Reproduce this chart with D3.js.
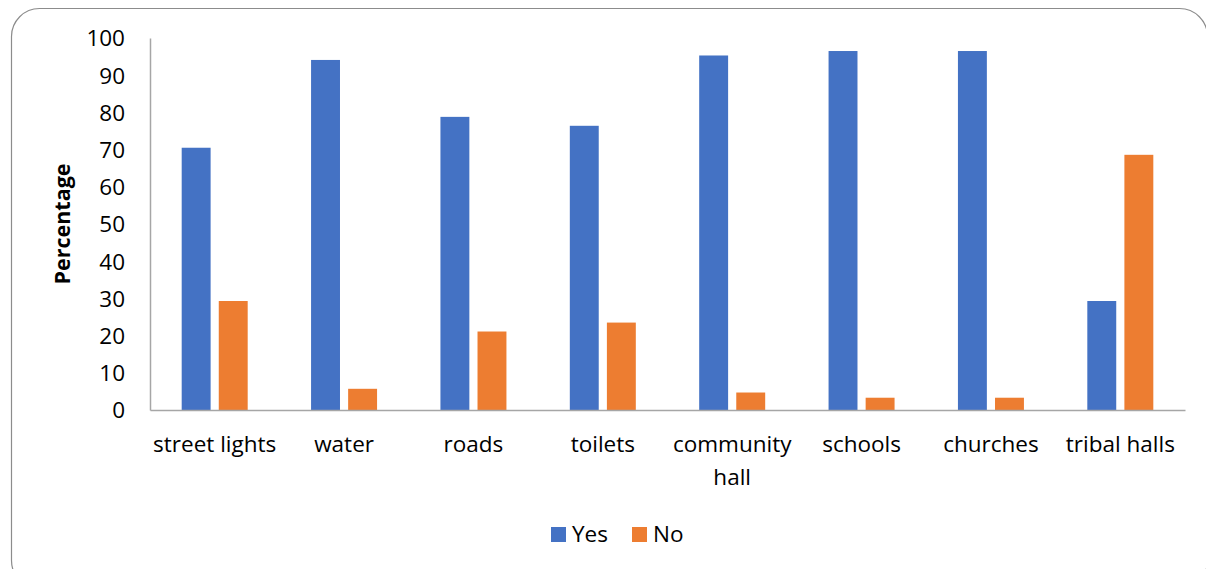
<!DOCTYPE html>
<html>
<head>
<meta charset="utf-8">
<script src="https://cdn.jsdelivr.net/npm/d3@7"></script>
<style>
  body { margin: 0; background: #fff; }
  svg text { font-family: "Open Sans", "Noto Sans", sans-serif; fill: #000; }
</style>
</head>
<body>
<div id="chart"></div>
<script>
const WIDTH = 1206, HEIGHT = 569;
const MARGIN = { left: 150, right: 21, top: 38, bottom: 159 };

// Data
const categories = ['street lights', 'water', 'roads', 'toilets', 'community hall', 'schools', 'churches', 'tribal halls'];
const yesValues = [70.5, 94.1, 78.8, 76.4, 95.3, 96.5, 96.5, 29.3];
const noValues = [29.3, 5.7, 21.1, 23.5, 4.7, 3.3, 3.3, 68.6];
const seriesNames = ['Yes', 'No'];
const yTicks = [0, 10, 20, 30, 40, 50, 60, 70, 80, 90, 100];
const COLORS = ['#4472C4', '#ED7D31'];
const FONT_SIZE = '22.5px';

const svg = d3.select('#chart').append('svg')
    .attr('width', WIDTH)
    .attr('height', HEIGHT);

// Chart frame with rounded corners
svg.append('rect')
    .attr('x', 11.5).attr('y', 8.5)
    .attr('width', 1196).attr('height', 580)
    .attr('rx', 28)
    .attr('fill', 'none')
    .attr('stroke', '#8c8c8c')
    .attr('stroke-width', 1.2);

const w = WIDTH - MARGIN.left - MARGIN.right;
const h = HEIGHT - MARGIN.top - MARGIN.bottom;
const g = svg.append('g').attr('transform', `translate(${MARGIN.left}, ${MARGIN.top})`);

const x0 = d3.scaleBand().domain(categories).range([0, w]).paddingInner(0).paddingOuter(0);
const x1 = d3.scaleBand().domain(seriesNames).range([x0.bandwidth() / 2 - 33, x0.bandwidth() / 2 + 33]).paddingInner(0.22);
const y = d3.scaleLinear().domain([0, 100]).range([h, 0]);

const rows = categories.map((c, i) => ({ cat: c, values: [yesValues[i], noValues[i]] }));

// Bars
const groups = g.selectAll('.group').data(rows).join('g')
    .attr('class', 'group')
    .attr('transform', d => `translate(${x0(d.cat)}, 0)`);

groups.selectAll('rect')
    .data(d => d.values.map((v, j) => ({ name: seriesNames[j], value: v, j })))
    .join('rect')
    .attr('x', d => x1(d.name))
    .attr('width', x1.bandwidth())
    .attr('y', d => y(d.value))
    .attr('height', d => h - y(d.value))
    .attr('fill', d => COLORS[d.j]);

// Y axis
const yAxis = d3.axisLeft(y).tickValues(yTicks).tickSize(0).tickPadding(25);
const yg = g.append('g').call(yAxis);
yg.select('.domain').attr('stroke', '#a6a6a6').attr('stroke-width', 1.5);
yg.selectAll('text').style('font-size', FONT_SIZE).attr('dy', '0.35em');

// X axis
const xAxis = d3.axisBottom(x0).tickSize(0).tickPadding(0);
const xg = g.append('g').attr('transform', `translate(0, ${h})`).call(xAxis);
xg.select('.domain').attr('stroke', '#a6a6a6').attr('stroke-width', 1.5);
xg.selectAll('.tick text').remove();
xg.selectAll('.tick').each(function (d) {
    const lines = d === 'community hall' ? ['community', 'hall'] : [d];
    const t = d3.select(this).append('text')
        .attr('text-anchor', 'middle')
        .style('font-size', FONT_SIZE)
        .attr('fill', '#000');
    lines.forEach((line, i) => {
        t.append('tspan').attr('x', 0).attr('y', 42 + i * 33).text(line);
    });
});

// Y axis title
svg.append('text')
    .attr('transform', `translate(70, ${MARGIN.top + h / 2}) rotate(-90)`)
    .attr('text-anchor', 'middle')
    .style('font-size', '21.5px')
    .style('font-weight', 'bold')
    .text('Percentage');

// Legend
const legend = svg.append('g').attr('transform', 'translate(551, 534)');
const legendX = [0, 81];
seriesNames.forEach((name, i) => {
    legend.append('rect')
        .attr('x', legendX[i]).attr('y', -7)
        .attr('width', 15).attr('height', 15)
        .attr('fill', COLORS[i]);
    legend.append('text')
        .attr('x', legendX[i] + 21).attr('y', 0)
        .attr('dy', '0.35em')
        .style('font-size', FONT_SIZE)
        .text(name);
});
</script>
</body>
</html>
